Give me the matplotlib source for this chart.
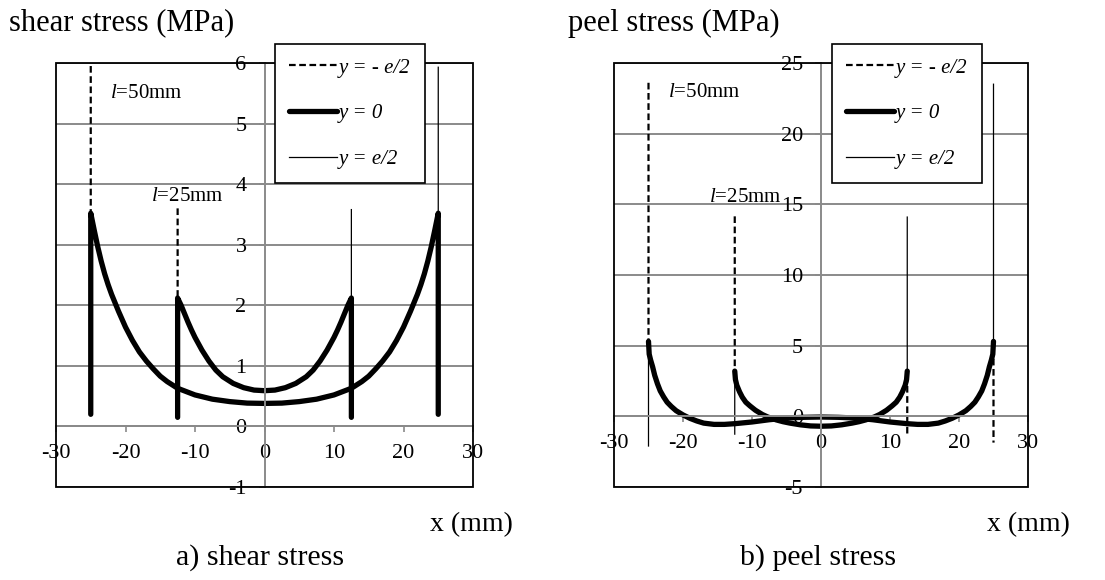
import matplotlib.pyplot as plt
from matplotlib.patches import Rectangle

plt.rcParams['font.family'] = ['Liberation Serif', 'DejaVu Serif']
plt.rcParams['mathtext.fontset'] = 'custom'
plt.rcParams['mathtext.rm'] = 'Liberation Serif'
plt.rcParams['mathtext.it'] = 'Liberation Serif:italic'
plt.rcParams['axes.unicode_minus'] = False

# shear stress along the overlap, mid-plane curve (MPa)
shear_x50 = [-25, -24.5, -24, -23.5, -23, -22.5, -22, -21, -20, -19, -18, -17, -16, -15, -14,
             -12.5, -10, -7.5, -5, -2.5, 0, 2.5, 5, 7.5, 10, 12.5,
             14, 15, 16, 17, 18, 19, 20, 21, 22, 22.5, 23, 23.5, 24, 24.5, 25]
shear_y50 = [3.52, 3.24, 2.97, 2.73, 2.52, 2.34, 2.18, 1.9, 1.64, 1.42, 1.23, 1.08, 0.95, 0.83, 0.74,
             0.63, 0.52, 0.45, 0.41, 0.385, 0.38, 0.385, 0.41, 0.45, 0.52, 0.63,
             0.74, 0.83, 0.95, 1.08, 1.23, 1.42, 1.64, 1.9, 2.18, 2.34, 2.52, 2.73, 2.97, 3.24, 3.52]
shear_x25 = [-12.5, -12, -11.5, -11, -10.5, -10, -9, -8, -7, -6, -4.5, -3, -1.5, 0,
             1.5, 3, 4.5, 6, 7, 8, 9, 10, 10.5, 11, 11.5, 12, 12.5]
shear_y25 = [2.12, 2.0, 1.86, 1.72, 1.59, 1.47, 1.26, 1.08, 0.93, 0.82, 0.71, 0.64, 0.6, 0.59,
             0.6, 0.64, 0.71, 0.82, 0.93, 1.08, 1.26, 1.47, 1.59, 1.72, 1.86, 2.0, 2.12]
# edge values (left, right) for y = -e/2, y = 0, y = e/2
shear_ends50 = [[5.95, 0.2], [0.2, 0.2], [0.2, 5.93]]
shear_ends25 = [[3.6, 0.15], [0.15, 0.15], [0.15, 3.58]]

# peel stress along the overlap (MPa)
peel_x50 = [-25, -24.9, -24.7, -24.4, -24.1, -23.7, -23.3, -22.8, -22.3, -21.7, -21, -20, -19, -18,
            -17, -15.5, -14, -12.5, -10, -7.5, -5, -2.5, 0, 2.5, 5, 7.5, 10, 12.5, 14, 15.5,
            17, 18, 19, 20, 21, 21.7, 22.3, 22.8, 23.3, 23.7, 24.1, 24.4, 24.7, 24.9, 25]
peel_y50 = [5.3, 4.4, 4.0, 3.5, 2.9, 2.3, 1.8, 1.37, 1.0, 0.7, 0.4, 0.1, -0.14, -0.33,
            -0.48, -0.57, -0.57, -0.52, -0.4, -0.24, -0.12, -0.07, -0.05, -0.07, -0.12, -0.24, -0.4, -0.52, -0.57, -0.57,
            -0.48, -0.33, -0.14, 0.1, 0.4, 0.7, 1.0, 1.37, 1.8, 2.3, 2.9, 3.5, 4.0, 4.4, 5.3]
peel_x25 = [-12.5, -12.4, -12.2, -11.8, -11.4, -10.9, -10.3, -9.5, -8.5, -7.7, -6.5, -5.5, -4.5, -3, -1.5, 0,
            1.5, 3, 4.5, 5.5, 6.5, 7.7, 8.5, 9.5, 10.3, 10.9, 11.4, 11.8, 12.2, 12.4, 12.5]
peel_y25 = [3.2, 2.6, 2.2, 1.73, 1.35, 1.0, 0.74, 0.43, 0.13, -0.05, -0.25, -0.38, -0.48, -0.6, -0.68, -0.7,
            -0.68, -0.6, -0.48, -0.38, -0.25, -0.05, 0.13, 0.43, 0.74, 1.0, 1.35, 1.73, 2.2, 2.6, 3.2]
peel_ends50 = [[23.6, -1.86], [5.3, 5.3], [-2.1, 23.5]]
peel_ends25 = [[14.15, -1.38], [3.2, 3.2], [-1.26, 14.1]]

x_ticks = [-30, -20, -10, 0, 10, 20, 30]
shear_ticks = [-1, 0, 1, 2, 3, 4, 5, 6]
peel_ticks = [-5, 0, 5, 10, 15, 20, 25]
legend_labels = ['y = - e/2', 'y = 0', 'y = e/2']

GRID = '#8a8a8a'
styles = [dict(color='black', lw=1.6, dashes=(3.0, 1.6)),
          dict(color='black', lw=3.8, solid_capstyle='round', solid_joinstyle='round'),
          dict(color='black', lw=0.9)]


def draw_curves(ax, xs, ys, ends):
    lines = {}
    # thick mid-plane first, the thin/dashed ones on top
    for i in (1, 0, 2):
        lx = [xs[0]] + xs + [xs[-1]]
        ly = [ends[i][0]] + ys + [ends[i][1]]
        lines[i] = ax.plot(lx, ly, **styles[i])[0]
    return [lines[0], lines[1], lines[2]]


def style_axes(ax, yticks):
    ax.set_xlim(-30, 30)
    ax.set_ylim(yticks[0], yticks[-1])
    for s in ('top', 'right'):
        ax.spines[s].set_visible(False)
    for s in ('left', 'bottom'):
        ax.spines[s].set_position(('data', 0))
        ax.spines[s].set_color(GRID)
        ax.spines[s].set_linewidth(1.4)
    ax.set_xticks(x_ticks)
    ax.set_yticks(yticks)
    ax.tick_params(axis='both', direction='out', length=4, width=1.2,
                   color=GRID, pad=9, labelsize=16)
    ax.yaxis.grid(True, color=GRID, lw=1.4)
    ax.set_axisbelow(True)
    ax.add_patch(Rectangle((0, 0), 1, 1, transform=ax.transAxes, fill=False,
                           ec='black', lw=1.3, clip_on=False, zorder=3))


fig = plt.figure(figsize=(11.05, 5.8), dpi=100)
W, H = 1105, 580
ax1 = fig.add_axes([56 / W, 93 / H, 417 / W, 424 / H])
ax2 = fig.add_axes([614 / W, 93 / H, 414 / W, 424 / H])

style_axes(ax1, shear_ticks)
h1 = draw_curves(ax1, shear_x50, shear_y50, shear_ends50)
draw_curves(ax1, shear_x25, shear_y25, shear_ends25)
ax1.text(-22.2, 5.5, r'$\mathit{l}$=50mm', fontsize=15, va='center')
ax1.text(-16.4, 3.8, r'$\mathit{l}$=25mm', fontsize=15, va='center')

style_axes(ax2, peel_ticks)
h2 = draw_curves(ax2, peel_x50, peel_y50, peel_ends50)
draw_curves(ax2, peel_x25, peel_y25, peel_ends25)
ax2.text(-22.2, 22.9, r'$\mathit{l}$=50mm', fontsize=15, va='center')
ax2.text(-16.2, 15.5, r'$\mathit{l}$=25mm', fontsize=15, va='center')

for ax, handles, left in ((ax1, h1, 275), (ax2, h2, 832)):
    leg = ax.legend(handles, legend_labels, loc='upper left',
                    bbox_to_anchor=(left / W, 1 - 44 / H), bbox_transform=fig.transFigure,
                    fancybox=False, edgecolor='black', framealpha=1, borderaxespad=0,
                    handlelength=2.3, handletextpad=0.1, labelspacing=1.26, borderpad=0.67,
                    prop={'style': 'italic', 'size': 15})
    leg.get_frame().set_linewidth(1.2)

fig.text(9 / W, 1 - 23 / H, 'shear stress (MPa)', fontsize=22, va='center')
fig.text(568 / W, 1 - 23 / H, 'peel stress (MPa)', fontsize=22, va='center')
fig.text(430 / W, 1 - 525 / H, 'x (mm)', fontsize=20, va='center')
fig.text(987 / W, 1 - 525 / H, 'x (mm)', fontsize=20, va='center')
fig.text(260 / W, 1 - 558 / H, 'a) shear stress', fontsize=21.5, va='center', ha='center')
fig.text(818 / W, 1 - 558 / H, 'b) peel stress', fontsize=21.5, va='center', ha='center')

fig.savefig('out.png', dpi=100)
